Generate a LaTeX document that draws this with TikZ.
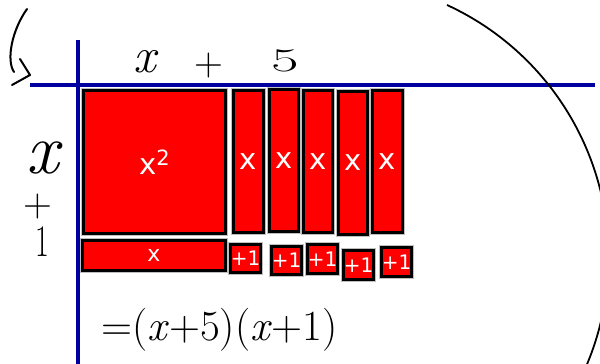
\documentclass[tikz,border=0pt]{standalone}
\usepackage{fontspec}
\newfontfamily\tilefont{DejaVu Sans}
\definecolor{axisblue}{RGB}{0,0,160}
\begin{document}
\begin{tikzpicture}[x=1pt,y=-1pt,
  tile/.style={draw=black, line width=3.4pt, fill=red, inner sep=0pt, text=white,
    preaction={draw=gray!50, line width=5pt}},
  xbig/.style={font=\tilefont\fontsize{29}{29}\selectfont},
  xone/.style={font=\tilefont\fontsize{20}{20}\selectfont},
  axis/.style={draw=axisblue, line width=3.2pt},
  hand/.style={line width=2pt, line cap=round, line join=round},
  htxt/.style={inner sep=0pt, text=black}]
\useasboundingbox (0,0) rectangle (600,364);
% axes
\coordinate (hl) at (30,85);
\coordinate (hr) at (595,85);
\coordinate (vt) at (78,40);
\coordinate (vb) at (78,364);
\draw[axis] (hl) -- (hr);
\draw[axis] (vt) -- (vb);
% tiles
\node[tile, xbig, minimum width=142, minimum height=143] (sq) at (154.5,162) {x\raisebox{0.6ex}{\fontsize{21}{21}\selectfont 2}};
\node[tile, font=\tilefont\fontsize{22}{22}\selectfont, minimum width=143, minimum height=30] (bx) at (154,255.5) {x};
\node[tile, xbig, minimum width=30, minimum height=142] (v1) at (248.5,161.5) {x};
\node[tile, xbig, minimum width=29, minimum height=142] (v2) at (284,160.5) {x};
\node[tile, xbig, minimum width=29, minimum height=142] (v3) at (318,161.5) {x};
\node[tile, xbig, minimum width=29, minimum height=143] (v4) at (353,163) {x};
\node[tile, xbig, minimum width=30, minimum height=142] (v5) at (387.5,161.5) {x};
\node[tile, xone, minimum width=30, minimum height=28] (u1) at (245.5,258.5) {+1};
\node[tile, xone, minimum width=30, minimum height=28] (u2) at (286.5,260.5) {+1};
\node[tile, xone, minimum width=30, minimum height=29] (u3) at (322.5,259) {+1};
\node[tile, xone, minimum width=30, minimum height=29] (u4) at (358.5,265) {+1};
\node[tile, xone, minimum width=30, minimum height=29] (u5) at (396.5,262) {+1};
% handwritten labels
\node[htxt, font=\fontsize{50}{50}\selectfont\itshape] (tx) at (145,62) {x};
\node[htxt, font=\fontsize{40}{40}\selectfont] (tp) at (209,66) {+};
\node[htxt, font=\fontsize{30}{30}\selectfont] (t5) at (285,61) {\scalebox{2}[1.1]{5}};
\node[htxt, font=\fontsize{36}{36}\selectfont\itshape] (lx) at (43,158) {\scalebox{2}{x}};
\node[htxt, font=\fontsize{20}{20}\selectfont] (lp) at (38,207) {\scalebox{2}{+}};
\node[htxt, font=\fontsize{30}{30}\selectfont] (l1) at (42,242) {\scalebox{1}[1.5]{1}};
\node[htxt, font=\fontsize{43}{43}\selectfont, anchor=west] (eq) at (101,330) {=(\textit{x}+5)(\textit{x}+1)};
% curved arrow on the left
\coordinate (a0) at (27,9);
\coordinate (a1) at (14,72);
\coordinate (h0) at (20,59);
\coordinate (h1) at (30,75);
\coordinate (h2) at (12,85);
\draw[hand] (a0) .. controls (12,30) and (6,60) .. (a1);
\draw[hand] (h0) -- (h1) -- (h2);
% big arc on the right
\begin{scope}
\clip (0,0) rectangle (600,364);
\draw[line width=1.8pt] (447,5) arc[start angle=-65.3, end angle=25, radius=277.5];
\end{scope}
\end{tikzpicture}
\end{document}
